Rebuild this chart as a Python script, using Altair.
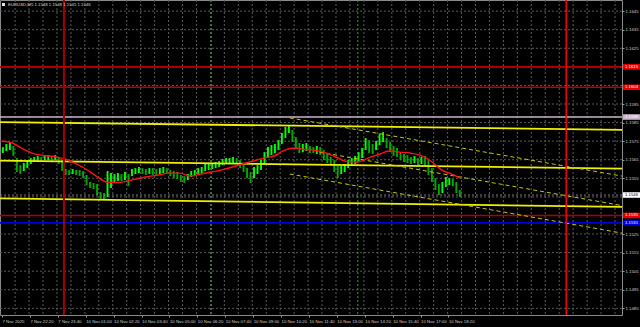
import altair as alt
import pandas as pd

# ---------------- data ----------------
TITLE_TEXT = "EURUSD,M5  1.1548 1.1548 1.1545 1.1546"

TIME_LABELS = ["7 Nov 2025", "7 Nov 22:20", "7 Nov 23:40", "10 Nov 01:00", "10 Nov 02:20",
               "10 Nov 03:40", "10 Nov 05:00", "10 Nov 06:20", "10 Nov 07:40", "10 Nov 09:00",
               "10 Nov 10:20", "10 Nov 11:40", "10 Nov 13:00", "10 Nov 14:20", "10 Nov 15:40",
               "10 Nov 17:00", "10 Nov 18:20"]
TIME_LABEL_BARS = [0, 16, 32, 48, 64, 80, 96, 112, 128, 144, 160, 176, 192, 208, 224, 240, 256]

PRICE_GRID = [1.1485, 1.1495, 1.1505, 1.1515, 1.1525, 1.1535, 1.1545, 1.1555, 1.1565,
              1.1575, 1.1585, 1.1595, 1.1605, 1.1615, 1.1625, 1.1635, 1.1645]
PRICE_LABELS = [1.1485, 1.1495, 1.1505, 1.1515, 1.1525, 1.1555, 1.1565,
                1.1575, 1.1585, 1.1595, 1.1625, 1.1635, 1.1645]

# M5 bars, one entry per two bars (high / low)
HIGHS = [1.15718, 1.15735, 1.15740, 1.15724, 1.15659, 1.15621, 1.15632, 1.15648, 1.15659, 1.15665,
         1.15670, 1.15665, 1.15675, 1.15675, 1.15670, 1.15675, 1.15665, 1.15648, 1.15600, 1.15595,
         1.15600, 1.15595, 1.15595, 1.15589, 1.15568, 1.15530, 1.15525, 1.15519, 1.15476, 1.15471,
         1.15589, 1.15578, 1.15573, 1.15578, 1.15573, 1.15584, 1.15573, 1.15600, 1.15605, 1.15611,
         1.15605, 1.15600, 1.15605, 1.15605, 1.15600, 1.15605, 1.15611, 1.15605, 1.15595, 1.15589,
         1.15584, 1.15568, 1.15562, 1.15573, 1.15589, 1.15595, 1.15605, 1.15611, 1.15627, 1.15632,
         1.15632, 1.15638, 1.15643, 1.15654, 1.15659, 1.15659, 1.15665, 1.15659, 1.15648, 1.15632,
         1.15605, 1.15584, 1.15611, 1.15621, 1.15648, 1.15691, 1.15718, 1.15729, 1.15735, 1.15756,
         1.15794, 1.15826, 1.15837, 1.15810, 1.15772, 1.15740, 1.15735, 1.15740, 1.15724, 1.15718,
         1.15724, 1.15718, 1.15702, 1.15681, 1.15665, 1.15648, 1.15616, 1.15616, 1.15627, 1.15648,
         1.15659, 1.15670, 1.15691, 1.15713, 1.15767, 1.15756, 1.15735, 1.15751, 1.15788, 1.15799,
         1.15767, 1.15745, 1.15724, 1.15713, 1.15691, 1.15681, 1.15675, 1.15665, 1.15670, 1.15659,
         1.15665, 1.15670, 1.15648, 1.15605, 1.15551, 1.15519, 1.15530, 1.15557, 1.15551, 1.15546,
         1.15530, 1.15487]
LOWS = [1.15686, 1.15697, 1.15702, 1.15670, 1.15584, 1.15573, 1.15589, 1.15605, 1.15627, 1.15638,
        1.15643, 1.15638, 1.15648, 1.15648, 1.15643, 1.15648, 1.15627, 1.15589, 1.15568, 1.15568,
        1.15573, 1.15568, 1.15562, 1.15551, 1.15514, 1.15498, 1.15492, 1.15460, 1.15438, 1.15433,
        1.15449, 1.15498, 1.15530, 1.15535, 1.15535, 1.15541, 1.15508, 1.15562, 1.15573, 1.15578,
        1.15573, 1.15568, 1.15573, 1.15568, 1.15568, 1.15573, 1.15578, 1.15573, 1.15562, 1.15551,
        1.15546, 1.15530, 1.15525, 1.15541, 1.15557, 1.15562, 1.15568, 1.15578, 1.15589, 1.15595,
        1.15600, 1.15605, 1.15611, 1.15621, 1.15627, 1.15632, 1.15632, 1.15627, 1.15605, 1.15584,
        1.15551, 1.15525, 1.15551, 1.15573, 1.15595, 1.15627, 1.15659, 1.15675, 1.15686, 1.15702,
        1.15735, 1.15767, 1.15794, 1.15745, 1.15708, 1.15686, 1.15691, 1.15697, 1.15686, 1.15686,
        1.15681, 1.15675, 1.15648, 1.15632, 1.15621, 1.15584, 1.15551, 1.15573, 1.15584, 1.15605,
        1.15616, 1.15627, 1.15638, 1.15659, 1.15702, 1.15686, 1.15681, 1.15702, 1.15729, 1.15745,
        1.15713, 1.15691, 1.15670, 1.15665, 1.15648, 1.15638, 1.15632, 1.15627, 1.15632, 1.15621,
        1.15627, 1.15616, 1.15568, 1.15530, 1.15487, 1.15460, 1.15471, 1.15503, 1.15514, 1.15508,
        1.15471, 1.15449]

MA_BARS = [0, 6, 12, 18, 24, 30, 36, 42, 48, 54, 60, 66, 72, 78, 84, 90, 96, 102, 108, 114,
           120, 126, 132, 138, 144, 150, 156, 162, 168, 174, 180, 186, 192, 198, 204, 210, 216,
           222, 228, 234, 240, 246, 252, 258, 263]
MA_VALUES = [1.15751, 1.15740, 1.15708, 1.15683, 1.15673, 1.15667, 1.15654, 1.15630, 1.15600, 1.15562,
             1.15530, 1.15527, 1.15535, 1.15549, 1.15560, 1.15568, 1.15578, 1.15578, 1.15562, 1.15573,
             1.15584, 1.15595, 1.15611, 1.15627, 1.15643, 1.15659, 1.15670, 1.15702, 1.15713, 1.15705,
             1.15700, 1.15686, 1.15662, 1.15640, 1.15638, 1.15659, 1.15678, 1.15697, 1.15691, 1.15686,
             1.15673, 1.15643, 1.15595, 1.15573, 1.15551]

# sloping solid channel (start bar, start price, end bar, end price)
SOLID_LINES = [(-1.15, 1.15853, 355.5, 1.15811),
               (-1.15, 1.15645, 355.5, 1.15602),
               (-1.15, 1.15442, 355.5, 1.15396)]
# dashed descending channel
DASHED_LINES = [(165, 1.15875, 355.5, 1.15562),
                (182, 1.15691, 355.5, 1.15403),
                (165, 1.15573, 355.5, 1.15255)]

LEVEL_PRICES = [1.1615, 1.1604, 1.1588, 1.1535, 1.1531]
LEVEL_TEXTS = ["1.1615", "1.1604", "1.1588", "1.1535", "1.1531"]
BID_PRICE = 1.1546
BID_TEXT = "1.1546"

DAY_SEPARATOR_BARS = [35.5, 323.5]
SESSION_BARS = [120, 204]

# ---------------- styles ----------------
LEVEL_LINE_COLORS = ["#b80000", "#b80000", "#c8b4c8", "#b00000", "#0000d0"]
LEVEL_BOX_COLORS = ["#e80000", "#e80000", "#c8b4c8", "#e80000", "#0000e0"]
LEVEL_TEXT_COLORS = ["#ffffff", "#ffffff", "#ffffff", "#ffffff", "#ffffff"]
FONT = "Liberation Sans"
FS = 4.3
X_DOMAIN = [-1.15, 355.5]
Y_DOMAIN = [1.14814, 1.16510]

xs = alt.Scale(domain=X_DOMAIN, nice=False, zero=False)
ys = alt.Scale(domain=Y_DOMAIN, nice=False, zero=False)

label_expr = "[" + ",".join("'" + s + "'" for s in TIME_LABELS) + "][round(datum.value/16)]"
x_axis = alt.Axis(values=TIME_LABEL_BARS, labelExpr=label_expr, grid=False, domain=False,
                  ticks=True, tickSize=2, tickColor="#9a9a9a", labelColor="#d0d0d0",
                  labelFont=FONT, labelFontSize=FS, labelAlign="left", labelBaseline="top",
                  labelPadding=2, labelOverlap=False, labelFlush=False, title=None)
y_axis = alt.Axis(orient="right", values=PRICE_LABELS, format=".4f", grid=False, domain=False,
                  ticks=True, tickSize=2, tickColor="#9a9a9a", labelColor="#d0d0d0",
                  labelFont=FONT, labelFontSize=FS, labelPadding=1, labelOverlap=False,
                  labelFlush=False, title=None)


def X(field, **kw):
    return alt.X(field, type="quantitative", scale=xs, axis=x_axis, title=None, **kw)


def Y(field, **kw):
    return alt.Y(field, type="quantitative", scale=ys, axis=y_axis, title=None, **kw)


# ---------------- tables ----------------
grid_h = pd.DataFrame({"p": PRICE_GRID})
grid_v = pd.DataFrame({"t": [7.5 + 8 * k for k in range(44)]})

mids = [(h + l) / 2 for h, l in zip(HIGHS, LOWS)]
candles = pd.DataFrame({
    "t0": [2 * k - 0.05 for k in range(len(HIGHS))],
    "t1": [2 * k + 1.05 for k in range(len(HIGHS))],
    "hi": HIGHS, "lo": LOWS,
    "c": ["#00ff00" if (k == 0 or mids[k] >= mids[k - 1]) else "#00a800" for k in range(len(HIGHS))],
})
ma = pd.DataFrame({"t": MA_BARS, "p": MA_VALUES})

solid = pd.DataFrame([{"id": i, "t": t, "p": p}
                      for i, (t0, p0, t1, p1) in enumerate(SOLID_LINES)
                      for t, p in ((t0, p0), (t1, p1))])
dashed = pd.DataFrame([{"id": i, "t": t, "p": p}
                       for i, (t0, p0, t1, p1) in enumerate(DASHED_LINES)
                       for t, p in ((t0, p0), (t1, p1))])

levels = pd.DataFrame({"p": LEVEL_PRICES, "label": LEVEL_TEXTS, "lc": LEVEL_LINE_COLORS,
                       "bc": LEVEL_BOX_COLORS, "tc": LEVEL_TEXT_COLORS})
boxes = pd.concat([levels, pd.DataFrame({"p": [BID_PRICE], "label": [BID_TEXT], "lc": ["#808080"],
                                         "bc": ["#ffffff"], "tc": ["#000000"]})], ignore_index=True)

days = pd.DataFrame({"t": DAY_SEPARATOR_BARS, "c": ["#a80000", "#ff0000"], "w": [2.0, 1.5]})
sessions = pd.DataFrame({"t": SESSION_BARS})
bid = pd.DataFrame({"p": [BID_PRICE]})
title = pd.DataFrame({"txt": [TITLE_TEXT]})

# ---------------- layers ----------------
base_h = alt.Chart(grid_h).mark_rule(color="#5a5a5a", strokeDash=[2, 2], strokeWidth=1).encode(y=Y("p"))
base_v = alt.Chart(grid_v).mark_rule(color="#5a5a5a", strokeDash=[2, 2], strokeWidth=1).encode(x=X("t"))

candle_layer = alt.Chart(candles).mark_rect().encode(
    x=X("t0"), x2="t1", y=Y("hi"), y2="lo", color=alt.Color("c:N", scale=None))

sess_layer = alt.Chart(sessions).mark_rule(color="#3aa03a", strokeDash=[2, 2], strokeWidth=1).encode(x=X("t"))

bid_layer = alt.Chart(bid).mark_rule(color="#7a7a7a", strokeDash=[2, 2], strokeWidth=1).encode(y=Y("p"))

level_layer = alt.Chart(levels).mark_rule(strokeWidth=1.6).encode(
    y=Y("p"), color=alt.Color("lc:N", scale=None))

solid_layer = alt.Chart(solid).mark_line(color="#f0f000", strokeWidth=1.8).encode(
    x=X("t"), y=Y("p"), detail="id:N")
dashed_layer = alt.Chart(dashed).mark_line(color="#c8c800", strokeWidth=1, strokeDash=[4, 3]).encode(
    x=X("t"), y=Y("p"), detail="id:N")

ma_layer = alt.Chart(ma).mark_line(color="#ff1010", strokeWidth=1.4, interpolate="monotone").encode(
    x=X("t"), y=Y("p"))

day_layer = alt.Chart(days).mark_rule().encode(
    x=X("t"), color=alt.Color("c:N", scale=None), strokeWidth=alt.StrokeWidth("w:Q", scale=None))

box_layer = alt.Chart(boxes).transform_calculate(
    top="datum.p + 0.00015", bot="datum.p - 0.00015"
).mark_rect().encode(
    x=alt.value(623), x2=alt.value(640), y=Y("top:Q"), y2="bot:Q",
    color=alt.Color("bc:N", scale=None))
box_text = alt.Chart(boxes).mark_text(font=FONT, fontSize=FS, align="center", baseline="middle").encode(
    x=alt.value(631.5), y=Y("p"), text="label:N", color=alt.Color("tc:N", scale=None))

title_icon = alt.Chart(title).mark_rect(color="#e0e0e0").encode(
    x=alt.value(2), x2=alt.value(5), y=alt.value(3), y2=alt.value(6))
title_text = alt.Chart(title).mark_text(font=FONT, fontSize=FS, align="left", baseline="middle",
                                        color="#d8d8d8").encode(
    x=alt.value(8), y=alt.value(4.6), text="txt:N")

chart = alt.layer(
    base_h, base_v, candle_layer, sess_layer, bid_layer, level_layer, solid_layer,
    dashed_layer, ma_layer, day_layer, box_layer, box_text, title_icon, title_text
).properties(
    width=622, height=315, autosize="none",
    padding={"left": 0, "top": 0, "right": 18, "bottom": 12},
    background="#000000"
).configure_view(stroke="#8a8a8a", strokeWidth=1)

chart.save("out.html", embed_options={"renderer": "svg", "actions": False})
